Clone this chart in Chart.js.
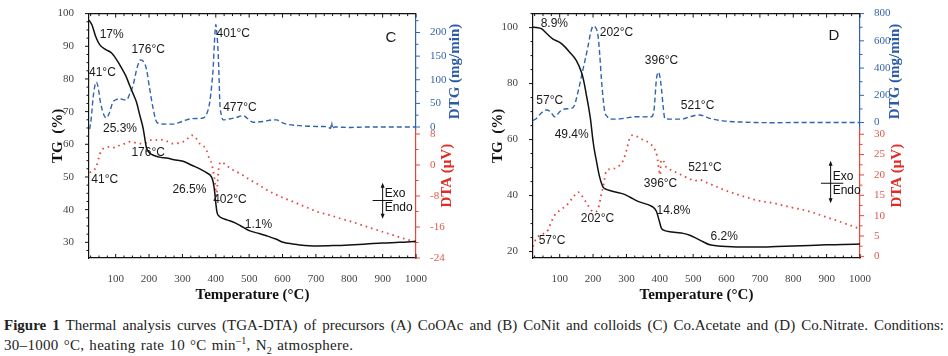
<!DOCTYPE html>
<html>
<head>
<meta charset="utf-8">
<script src="https://cdn.jsdelivr.net/npm/chart.js@4.4.1/dist/chart.umd.min.js"></script>
<style>
  body { margin: 0; background: #fff; width: 948px; height: 356px; overflow: hidden; position: relative; }
  canvas { position: absolute; top: 0; }
  #chartC { left: 0; }
  #chartD { left: 474px; }
  .cap { position: absolute; left: 4px; top: 315px; width: 940px; font: 15px "Liberation Serif", serif; color: #222; line-height: 20px; }
  .cap .l1 { text-align: justify; text-align-last: justify; white-space: nowrap; }
  .cap .l2 { word-spacing: 1px; letter-spacing: 0.3px; }
  .cap sup, .cap sub { font-size: 10px; line-height: 0; }
</style>
</head>
<body>
<canvas id="chartC" width="474" height="310"></canvas>
<canvas id="chartD" width="474" height="310"></canvas>
<div class="cap">
  <div class="l1"><b>Figure 1</b> Thermal analysis curves (TGA-DTA) of precursors (A) CoOAc and (B) CoNit and colloids (C) Co.Acetate and (D) Co.Nitrate. Conditions:</div>
  <div class="l2">30–1000 °C, heating rate 10 °C min<sup>–1</sup>, N<sub>2</sub> atmosphere.</div>
</div>
<script>
// tick labels
var tempTicks = [100, 200, 300, 400, 500, 600, 700, 800, 900, 1000];
var tgTicksC = [30, 40, 50, 60, 70, 80, 90, 100];
var dtgTicksC = [0, 50, 100, 150, 200];
var dtaTicksC = [8, 0, -8, -16, -24];
var tgTicksD = [20, 40, 60, 80, 100];
var dtgTicksD = [0, 200, 400, 600, 800];
var dtaTicksD = [0, 5, 10, 15, 20, 25, 30];

// panel C - Co.Acetate
var tgTempC = [20, 29, 40, 52, 70, 87, 102, 117, 130, 142, 152, 162, 172, 182, 187, 192, 200, 210, 217, 235, 252, 275, 302, 330, 352, 372, 387, 392, 396, 400, 404, 410, 417, 435, 452, 475, 502, 530, 552, 580, 602, 630, 652, 702, 752, 800, 852, 900, 950, 1000];
var tgC = [98, 96.5, 93, 90.5, 89, 88, 86, 83.5, 81, 78, 75.5, 73, 69, 65, 62, 59, 57.5, 56.8, 56.5, 56, 55.8, 55.3, 54.8, 53.5, 52.5, 51.3, 50, 48.5, 46, 42, 39, 38, 37.5, 36.8, 36.2, 35, 33.5, 32.7, 32, 31, 30, 29.5, 29.2, 28.9, 29, 29.2, 29.5, 29.8, 30, 30.3];

var dtgTempC = [22, 27, 32, 37, 42, 47, 55, 65, 72, 80, 92, 102, 112, 122, 132, 142, 152, 164, 174, 184, 192, 202, 212, 220, 227, 250, 272, 300, 322, 345, 362, 374, 382, 388, 392, 396, 400, 403, 407, 410, 412, 417, 422, 440, 460, 482, 495, 512, 545, 570, 582, 600, 612, 650, 682, 720, 737, 744, 747, 750, 755, 802, 850, 900, 950, 1000];
var dtgC = [-5, 20, 60, 85, 95, 85, 50, 25, 19, 28, 53, 58, 60, 58, 57, 70, 88, 125, 142, 138, 123, 80, 40, 15, 8, 6, 6, 12, 17, 18, 19, 30, 53, 90, 123, 180, 217, 200, 158, 100, 53, 25, 15, 17, 20, 24, 18, 10, 12, 15, 15, 9, 6, 3, 1.5, 1, 0, -3, 10, -4, 0, -1, 0, 0, 0, 0];

var dtaTempC = [22, 27, 35, 42, 50, 57, 62, 82, 100, 112, 130, 142, 157, 172, 187, 202, 217, 232, 252, 272, 290, 302, 315, 327, 340, 352, 362, 372, 382, 387, 392, 397, 402, 405, 408, 412, 417, 430, 452, 475, 502, 527, 552, 577, 602, 627, 652, 677, 702, 727, 752, 777, 802, 827, 852, 877, 902, 927, 952, 977, 1000];
var dtaC = [-2, -1.7, -1.3, -0.4, 2, 3.8, 4.2, 4.7, 4.5, 5.1, 5.6, 6, 5.8, 5.5, 5.6, 6.4, 6.4, 6.6, 6.2, 5.5, 5.7, 6, 6.8, 7.7, 7, 5.5, 5, 3.8, 1.3, 0.5, -1.5, -4, -8, -5, -1.5, 0.4, 0.8, 0, -1.3, -2.3, -3.8, -5, -6.4, -7.5, -8.5, -9.3, -10.2, -11.1, -12, -12.6, -13.2, -13.9, -14.5, -15.2, -15.9, -16.6, -17.3, -18, -18.7, -19.3, -20];

// panel D - Co.Nitrate
var tgTempD = [20, 30, 45, 60, 80, 100, 115, 130, 150, 165, 172, 180, 186, 192, 200, 205, 210, 215, 220, 225, 230, 240, 250, 270, 290, 310, 330, 350, 370, 385, 390, 395, 400, 405, 415, 430, 450, 470, 490, 510, 530, 550, 575, 600, 650, 700, 750, 800, 850, 900, 950, 1000];
var tgD = [100.2, 100, 99.6, 98, 95.9, 94.7, 93.2, 91.2, 88.2, 84.1, 81, 75.9, 72, 67.6, 59.4, 55.5, 52.4, 49.2, 46.5, 44.5, 43, 42.2, 41.8, 41.2, 40.6, 39.5, 38.2, 37.3, 36.5, 35.3, 34.3, 32.4, 30.2, 28.3, 27.5, 27.1, 26.8, 26.5, 25.8, 24.7, 23.5, 22.4, 22, 21.8, 21.6, 21.6, 21.8, 22, 22.2, 22.4, 22.5, 22.7];

var dtgTempD = [20, 30, 45, 60, 72, 85, 92, 100, 115, 135, 145, 150, 160, 170, 178, 185, 192, 200, 207, 215, 220, 225, 230, 235, 242, 250, 270, 290, 310, 330, 350, 375, 383, 390, 396, 400, 405, 410, 415, 430, 450, 470, 490, 505, 520, 535, 550, 570, 590, 620, 650, 690, 750, 800, 850, 900, 950, 1000];
var dtgD = [15, 30, 70, 92, 80, 43, 55, 80, 100, 104, 130, 176, 280, 393, 480, 563, 650, 708, 700, 636, 500, 321, 180, 80, 45, 27, 25, 30, 38, 43, 42, 43, 100, 321, 370, 340, 249, 120, 31, 25, 25, 27, 43, 52, 56, 45, 31, 20, 12, 6, 3, 0, -1, 0, 0, 0, 0, 0];

var dtaTempD = [20, 30, 35, 50, 65, 75, 85, 100, 120, 140, 155, 165, 175, 185, 195, 205, 212, 218, 224, 230, 240, 255, 270, 290, 300, 310, 320, 330, 345, 360, 375, 385, 392, 398, 401, 404, 408, 420, 435, 450, 470, 490, 505, 520, 535, 550, 570, 590, 615, 640, 665, 690, 715, 740, 765, 790, 815, 840, 865, 890, 915, 940, 965, 995, 1000];
var dtaD = [2.4, 4.5, 4.9, 5.5, 6.5, 8.5, 10.1, 11.3, 12.5, 14.5, 15.8, 15, 13.8, 12.5, 11.3, 10.9, 11.2, 12.5, 15, 17, 21, 21.5, 21.8, 23.5, 26, 29.1, 29.8, 29.5, 28.8, 28.3, 27.4, 26.3, 24.5, 21, 20, 23.5, 23.8, 21.8, 21.2, 20.6, 19.8, 19, 18.6, 18.8, 18.3, 17.8, 17.1, 16.4, 15.7, 15, 14.4, 13.8, 13.4, 13.1, 12.6, 12.1, 11.7, 11.2, 10.6, 9.9, 9.2, 8.5, 7.8, 6.9, 6.8];

// labels written on the plots (temperature, TG value)
var notesC = [
  { t: '17%', x: 52, y: 93.5 }, { t: '176°C', x: 147, y: 89 }, { t: '401°C', x: 402, y: 93.8 },
  { t: '41°C', x: 20, y: 82 }, { t: '477°C', x: 422, y: 71.2 }, { t: '25.3%', x: 62, y: 64.7 },
  { t: '176°C', x: 147, y: 57.3 }, { t: '41°C', x: 27, y: 49.2 }, { t: '26.5%', x: 270, y: 46 },
  { t: '402°C', x: 392, y: 43 }, { t: '1.1%', x: 487, y: 35.5 }
];
var notesD = [
  { t: '8.9%', x: 43, y: 101.4 }, { t: '202°C', x: 220, y: 98.2 }, { t: '396°C', x: 355, y: 88.2 },
  { t: '57°C', x: 30, y: 73.9 }, { t: '521°C', x: 463, y: 72 }, { t: '49.4%', x: 85, y: 61.8 },
  { t: '521°C', x: 485, y: 50 }, { t: '396°C', x: 352, y: 44.1 }, { t: '14.8%', x: 390, y: 34.7 },
  { t: '202°C', x: 163, y: 31.8 }, { t: '57°C', x: 37, y: 23.9 }, { t: '6.2%', x: 552, y: 25.3 }
];

var blue = '#2f63b1';
var red = '#e8463c';
var serif = '"Liberation Serif", "Times New Roman", serif';
var sans = '"Liberation Sans", Arial, sans-serif';

function pts(xs, ys) {
  return xs.map(function (x, i) { return { x: x, y: ys[i] }; });
}

// tick marks, frame, titles and text drawn on top of the chart
var marks = {
  id: 'marks',
  afterDatasetsDraw: function (chart, args, o) {
    var ctx = chart.ctx, a = chart.chartArea;
    var sx = chart.scales.x, sy = chart.scales.y;
    ctx.save();
    ctx.strokeStyle = '#111';
    ctx.lineWidth = 1.2;
    ctx.beginPath();
    ctx.moveTo(a.left, a.top);
    ctx.lineTo(a.right, a.top);
    ctx.stroke();

    o.ticks.forEach(function (t) {
      var s = chart.scales[t.id];
      ctx.strokeStyle = t.color;
      ctx.lineWidth = 1;
      var n0 = Math.ceil((s.min - 1e-9) / t.step), n1 = Math.floor((s.max + 1e-9) / t.step);
      for (var n = n0; n <= n1; n++) {
        var v = n * t.step;
        var major = Math.abs(v / t.major - Math.round(v / t.major)) < 1e-6;
        var len = major ? 4 : 2.5;
        var p = s.getPixelForValue(v);
        ctx.beginPath();
        if (t.id === 'x') {
          ctx.moveTo(p, a.bottom); ctx.lineTo(p, a.bottom - len);
          ctx.moveTo(p, a.top); ctx.lineTo(p, a.top + len);
        } else if (t.id === 'y') {
          ctx.moveTo(a.left, p); ctx.lineTo(a.left - len, p);
        } else {
          ctx.moveTo(a.right, p); ctx.lineTo(a.right + len, p);
        }
        ctx.stroke();
      }
    });

    // rotated axis titles (all read bottom to top)
    o.titles.forEach(function (t) {
      var s = chart.scales[t.id];
      var x = t.id === 'y' ? a.left - t.dx : a.right + t.dx;
      var y = (s.top + s.bottom) / 2 + (t.dy || 0);
      ctx.save();
      ctx.translate(x, y);
      ctx.rotate(-Math.PI / 2);
      ctx.font = 'bold 15px ' + serif;
      ctx.fillStyle = t.color;
      ctx.textAlign = 'center';
      ctx.textBaseline = 'middle';
      ctx.fillText(t.text, 0, 0);
      ctx.restore();
    });

    ctx.fillStyle = '#1a1a1a';
    ctx.font = '12px ' + sans;
    ctx.textAlign = 'left';
    ctx.textBaseline = 'middle';
    o.notes.forEach(function (n) {
      ctx.fillText(n.t, sx.getPixelForValue(n.x), sy.getPixelForValue(n.y));
    });

    ctx.font = '15px ' + sans;
    ctx.textAlign = 'center';
    ctx.fillText(o.letter.t, sx.getPixelForValue(o.letter.x), sy.getPixelForValue(o.letter.y));

    // Exo / Endo marker
    var e = o.exo;
    var ex = sx.getPixelForValue(e.x), et = sy.getPixelForValue(e.top), eb = sy.getPixelForValue(e.bottom), em = sy.getPixelForValue(e.mid);
    ctx.strokeStyle = '#111';
    ctx.fillStyle = '#111';
    ctx.lineWidth = 1;
    ctx.beginPath();
    ctx.moveTo(ex, et + 4); ctx.lineTo(ex, eb - 4);
    ctx.moveTo(sx.getPixelForValue(e.x1), em); ctx.lineTo(sx.getPixelForValue(e.x2), em);
    ctx.stroke();
    ctx.beginPath();
    ctx.moveTo(ex, et); ctx.lineTo(ex - 2, et + 5); ctx.lineTo(ex + 2, et + 5); ctx.closePath();
    ctx.moveTo(ex, eb); ctx.lineTo(ex - 2, eb - 5); ctx.lineTo(ex + 2, eb - 5); ctx.closePath();
    ctx.fill();
    ctx.font = '12px ' + sans;
    ctx.textAlign = 'left';
    ctx.fillText('Exo', ex + 2, em - 7);
    ctx.fillText('Endo', ex + 2, em + 7);
    ctx.restore();
  }
};

function yAxis(pos, min, max, color, labelColor, tickVals, width, extra) {
  var s = {
    type: 'linear',
    position: pos,
    min: min,
    max: max,
    grid: { display: false },
    border: { display: true, color: color, width: 1.2 },
    afterBuildTicks: function (sc) { sc.ticks = tickVals.map(function (v) { return { value: v }; }); },
    afterFit: function (sc) { sc.width = width; },
    ticks: {
      color: labelColor,
      autoSkip: false,
      padding: pos === 'left' ? 7 : 6,
      font: { family: serif, size: 11 },
      callback: function (v) { return String(v); }
    }
  };
  return Object.assign(s, extra || {});
}

function buildChart(id, p) {
  return new Chart(document.getElementById(id), {
    type: 'line',
    data: {
      datasets: [
        { label: 'TG', data: pts(p.tgX, p.tg), yAxisID: 'y', borderColor: '#111', borderWidth: 1.5, pointRadius: 0, cubicInterpolationMode: 'monotone' },
        { label: 'DTG', data: pts(p.dtgX, p.dtg), yAxisID: 'y2', borderColor: blue, borderWidth: 1.4, borderDash: [5, 3], pointRadius: 0, cubicInterpolationMode: 'monotone' },
        { label: 'DTA', data: pts(p.dtaX, p.dta), yAxisID: 'y3', borderColor: red, borderWidth: 1.8, borderDash: [1.6, 4], pointRadius: 0, cubicInterpolationMode: 'monotone' }
      ]
    },
    options: {
      responsive: false,
      animation: false,
      devicePixelRatio: 1,
      layout: { padding: { top: 11, left: 0, right: 0, bottom: 0 } },
      plugins: {
        legend: { display: false },
        tooltip: { enabled: false },
        marks: {
          ticks: [
            { id: 'x', step: 25, major: 100, color: '#111' },
            { id: 'y', step: p.tgMinor, major: p.tgMajor, color: '#111' },
            { id: 'y2', step: p.dtgMinor, major: p.dtgMajor, color: blue },
            { id: 'y3', step: p.dtaMinor, major: p.dtaMajor, color: red }
          ],
          titles: [
            { id: 'y', text: 'TG  (%)', color: '#111', dx: p.leftTitle },
            { id: 'y2', text: 'DTG (mg/min)', color: '#2a5aa8', dx: p.dtgTitle },
            { id: 'y3', text: 'DTA (μV)', color: '#e22b25', dx: p.dtaTitle, dy: -18 }
          ],
          notes: p.notes,
          letter: p.letter,
          exo: p.exo
        }
      },
      scales: {
        x: {
          type: 'linear',
          min: 20,
          max: 1000,
          grid: { display: false },
          border: { display: true, color: '#111', width: 1.2 },
          afterBuildTicks: function (sc) { sc.ticks = tempTicks.map(function (v) { return { value: v }; }); },
          afterFit: function (sc) { sc.height = 52; },
          ticks: { color: '#444', autoSkip: false, maxRotation: 0, padding: 7, font: { family: serif, size: 11 }, callback: function (v) { return String(v); } },
          title: { display: true, text: 'Temperature (°C)', color: '#111', font: { family: serif, size: 15, weight: 'bold' }, padding: { top: 0, bottom: 6 } }
        },
        y: yAxis('left', p.tgMin, p.tgMax, '#111', '#444', p.tgTicks, p.leftW),
        y2: yAxis('right', p.dtgMin, p.dtgMax, blue, '#3564a8', p.dtgTicks, p.rightW, { stack: 'right', stackWeight: 117 }),
        y3: yAxis('right', p.dtaMin, p.dtaMax, red, '#e0584a', p.dtaTicks, p.rightW, { stack: 'right', stackWeight: 130 })
      }
    },
    plugins: [marks]
  });
}

buildChart('chartC', {
  tgX: tgTempC, tg: tgC, dtgX: dtgTempC, dtg: dtgC, dtaX: dtaTempC, dta: dtaC,
  tgMin: 25.2, tgMax: 100, tgTicks: tgTicksC, tgMinor: 2.5, tgMajor: 10,
  dtgMin: -5, dtgMax: 240, dtgTicks: dtgTicksC, dtgMinor: 25, dtgMajor: 50,
  dtaMin: -24, dtaMax: 9.2, dtaTicks: dtaTicksC, dtaMinor: 4, dtaMajor: 8,
  leftW: 89, rightW: 58, leftTitle: 31, dtgTitle: 39, dtaTitle: 31,
  notes: notesC,
  letter: { t: 'C', x: 925, y: 92.5 },
  exo: { x: 900, top: 48.2, bottom: 37.2, mid: 42.8, x1: 870, x2: 930 }
});

buildChart('chartD', {
  tgX: tgTempD, tg: tgD, dtgX: dtgTempD, dtg: dtgD, dtaX: dtaTempD, dta: dtaD,
  tgMin: 17.7, tgMax: 105, tgTicks: tgTicksD, tgMinor: 5, tgMajor: 20,
  dtgMin: -50, dtgMax: 800, dtgTicks: dtgTicksD, dtgMinor: 100, dtgMajor: 200,
  dtaMin: -0.4, dtaMax: 31.2, dtaTicks: dtaTicksD, dtaMinor: 2.5, dtaMajor: 5,
  leftW: 59, rightW: 88, leftTitle: 35, dtgTitle: 35, dtaTitle: 37,
  notes: notesD,
  letter: { t: 'D', x: 922, y: 97 },
  exo: { x: 912, top: 52.4, bottom: 37.3, mid: 44.4, x1: 883, x2: 950 }
});
</script>
</body>
</html>
